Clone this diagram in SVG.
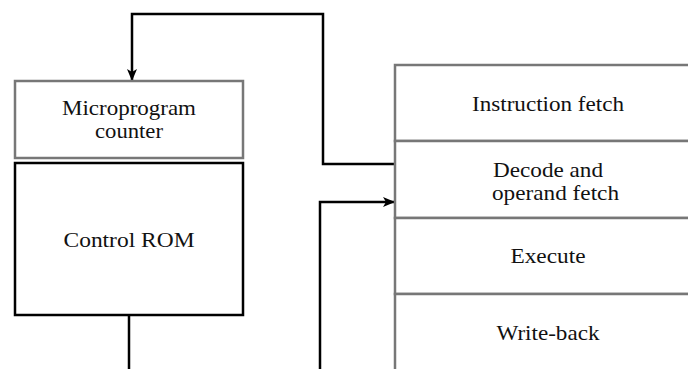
<svg xmlns="http://www.w3.org/2000/svg" width="688" height="369" viewBox="0 0 688 369">
<style>
.gray{fill:#fff;stroke:#777;stroke-width:2.5}
.blk{fill:#fff;stroke:#000;stroke-width:2.5}
.wire{fill:none;stroke:#000;stroke-width:2.5}
</style>
<defs>
<marker id="ah" viewBox="0 0 12 10" refX="12" refY="5" markerWidth="12" markerHeight="10" markerUnits="userSpaceOnUse" orient="auto">
<path d="M0,0 L12,5 L0,10 L3,5 Z" fill="#000"/>
</marker>
</defs>
<g id="connectors">
<path class="wire" d="M395,164 H323 V14 H132 V81" marker-end="url(#ah)"/>
<path class="wire" d="M129,315 V372"/>
<path class="wire" d="M320,372 V202 H395" marker-end="url(#ah)"/>
</g>
<g font-family="Liberation Serif" font-size="21" fill="#111">
<g id="mpc">
<rect class="gray" x="15" y="81" width="228" height="77"/>
<text text-anchor="middle" x="129" y="115" textLength="134" lengthAdjust="spacingAndGlyphs">Microprogram</text>
<text text-anchor="middle" x="129" y="138" textLength="68" lengthAdjust="spacingAndGlyphs">counter</text>
</g>
<g id="rom">
<rect class="blk" x="15" y="163" width="228" height="152"/>
<text text-anchor="middle" x="129" y="247" textLength="131" lengthAdjust="spacingAndGlyphs">Control ROM</text>
</g>
<g id="if">
<rect class="gray" x="395" y="65" width="300" height="76"/>
<text text-anchor="middle" x="548" y="111" textLength="152" lengthAdjust="spacingAndGlyphs">Instruction fetch</text>
</g>
<g id="dec">
<rect class="gray" x="395" y="141" width="300" height="77"/>
<text x="493" y="177" textLength="110" lengthAdjust="spacingAndGlyphs">Decode and</text>
<text x="492" y="200" textLength="127" lengthAdjust="spacingAndGlyphs">operand fetch</text>
</g>
<g id="exe">
<rect class="gray" x="395" y="218" width="300" height="76"/>
<text text-anchor="middle" x="548" y="263" textLength="75" lengthAdjust="spacingAndGlyphs">Execute</text>
</g>
<g id="wb">
<rect class="gray" x="395" y="294" width="300" height="80"/>
<text text-anchor="middle" x="548" y="340" textLength="103" lengthAdjust="spacingAndGlyphs">Write-back</text>
</g>
</g>
</svg>
